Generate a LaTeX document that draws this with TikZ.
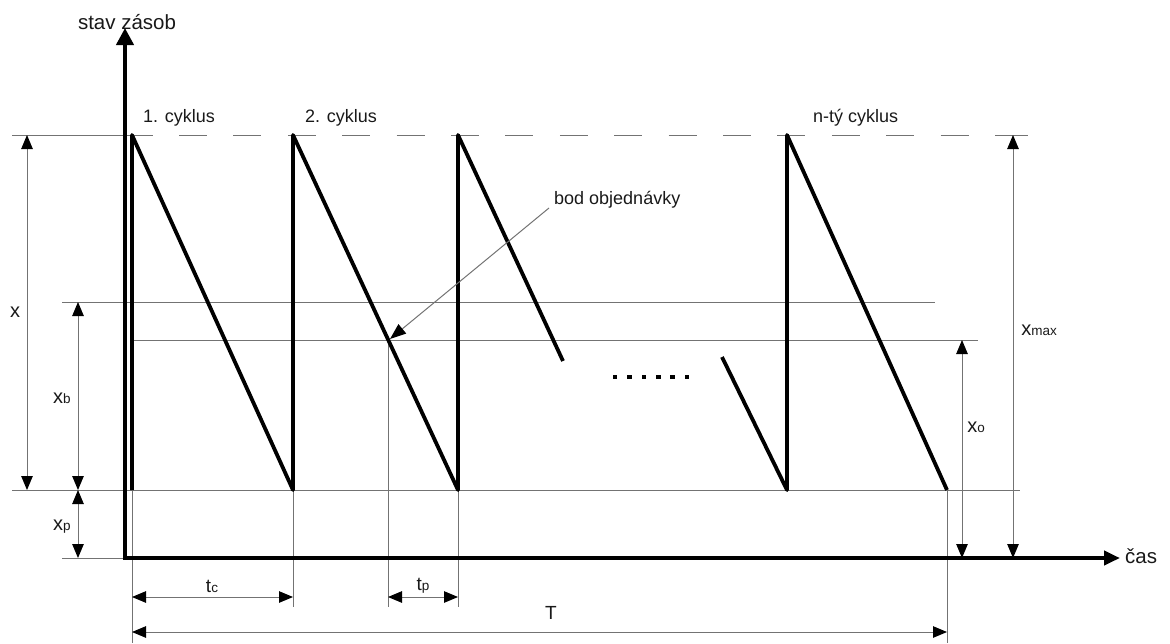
\documentclass[tikz,border=0pt]{standalone}
\usepackage{fontspec}
\setmainfont{Liberation Sans}
\usetikzlibrary{arrows.meta}
\newcommand{\lx}[1]{{\fontsize{20}{20}\selectfont x}{\fontsize{13.5}{13.5}\selectfont #1}}
\newcommand{\lt}[1]{{\fontsize{19}{19}\selectfont t}{\fontsize{13.5}{13.5}\selectfont #1}}
\begin{document}
\begin{tikzpicture}[x=1pt,y=-1pt,
  thinln/.style={line width=1pt, draw=black!55},
  sawln/.style={line width=3.8pt, line join=round, line cap=butt},
  axisln/.style={line width=4pt},
  tip/.tip={Triangle[length=14pt,width=11.5pt,color=black]},
  dimln/.style={thinln, tip-tip},
  lbl/.style={font=\fontsize{18}{18}\selectfont, inner sep=0pt, text=black!90},
  biglbl/.style={font=\fontsize{20.5}{20.5}\selectfont, inner sep=0pt, text=black!90},
]
\useasboundingbox (0,0) rectangle (1170,643);

% named points
\coordinate (o) at (125,558);
\coordinate (ytop) at (125,28);
\coordinate (xend) at (1120,558);

% horizontal reference lines
\draw[thinln] (12,135) -- (153,135);
\draw[thinln, dash pattern=on 28pt off 26.4pt] (179,135) -- (995,135);
\draw[thinln] (995,135) -- (1028,135);
\draw[thinln] (62,302) -- (935,302);
\draw[thinln] (133,340) -- (978,340);
\draw[thinln] (12,490) -- (1020,490);
\draw[thinln] (62,558) -- (125,558);

% vertical extension lines
\draw[thinln] (132,490) -- (132,643);
\draw[thinln] (293,490) -- (293,607);
\draw[thinln] (388,340) -- (388,607);
\draw[thinln] (458,490) -- (458,607);
\draw[thinln] (947,490) -- (947,643);

% axes
\draw[axisln, {Triangle[length=17pt,width=17pt]}-{Triangle[length=16pt,width=14pt]}, line join=miter]
  (ytop) -- (o) -- (xend);
\node[biglbl] (ylab) at (127,22) {stav zásob};
\node[biglbl, anchor=west] (xlab) at (1125,556) {čas};

% sawtooth
\coordinate (c1b) at (132,490); \coordinate (c1t) at (132,135);
\coordinate (c2b) at (293,490); \coordinate (c2t) at (293,135);
\coordinate (c3b) at (458,490); \coordinate (c3t) at (458,135);
\coordinate (c3e) at (563,361);
\draw[sawln] (c1b) -- (c1t) -- (c2b) -- (c2t) -- (c3b) -- (c3t) -- (c3e);
\coordinate (n0) at (722,357); \coordinate (nb) at (787,490);
\coordinate (nt) at (787,135); \coordinate (ne) at (947,490);
\draw[sawln] (n0) -- (nb) -- (nt) -- (ne);

% dots
\foreach \i in {0,...,5} {
  \fill (615+\i*14.4-2.3,377-2.3) rectangle ++(4.6,4.6);
}

% cycle labels
\node[lbl, anchor=west] (cy1) at (143,118) {1. cyklus};
\node[lbl, anchor=west] (cy2) at (305,118) {2. cyklus};
\node[lbl, anchor=west] (cyn) at (813,118) {n-tý cyklus};

% order point
\node[lbl, anchor=west] (bod) at (554,200) {bod objednávky};
\coordinate (bodS) at (549,208);
\coordinate (bodP) at (390,339);
\draw[thinln, -{Triangle[length=16pt,width=12pt,color=black]}] (bodS) -- (bodP);

% vertical dimensions
\draw[dimln] (27,135) -- (27,490);
\node[lbl] (lx) at (15,312) {\fontsize{20}{20}\selectfont x};
\draw[dimln] (78,302) -- (78,490);
\node[lbl] (lxb) at (62,398) {\lx{b}};
\draw[dimln] (78,490) -- (78,558);
\node[lbl] (lxp) at (62,527) {\lx{p}};
\draw[dimln] (962,340) -- (962,558);
\node[lbl] (lxo) at (976,427) {\lx{o}};
\draw[dimln] (1013,135) -- (1013,558);
\node[lbl] (lxm) at (1039,330) {\lx{max}};

% horizontal dimensions
\draw[dimln] (132,597) -- (293,597);
\node[lbl] (ltc) at (212,586) {\lt{c}};
\draw[dimln] (388,597) -- (458,597);
\node[lbl] (ltp) at (423,586) {\lt{p}};
\draw[dimln] (132,632) -- (947,632);
\node[lbl] (lT) at (551,613) {\fontsize{19}{19}\selectfont T};
\end{tikzpicture}
\end{document}
